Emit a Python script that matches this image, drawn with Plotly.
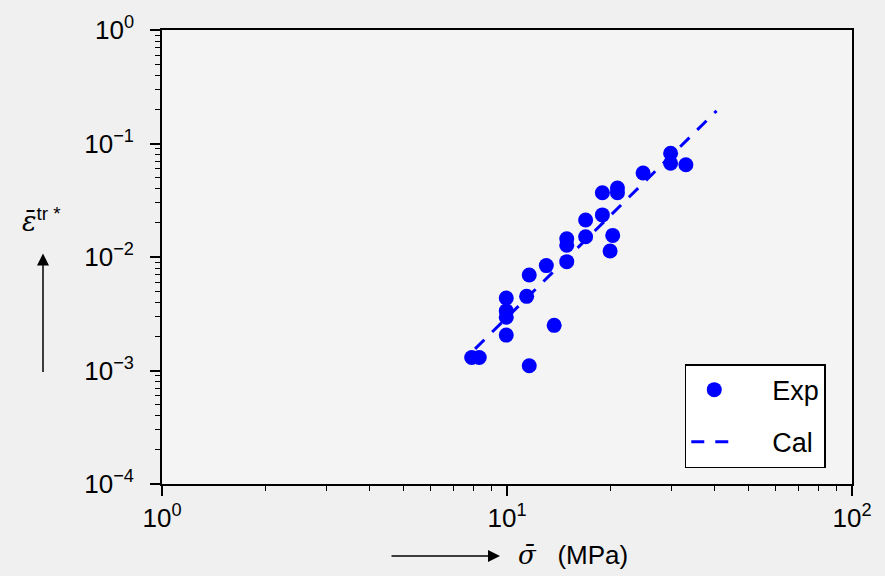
import plotly.graph_objects as go

# Experimental data (sigma in MPa, strain)
exp_x = [7.90, 8.31, 11.6, 9.95, 9.95, 9.95, 9.95, 11.4, 13.7, 11.6, 13.0, 14.9, 14.9, 14.9,
         16.9, 16.9, 18.9, 18.9, 20.9, 20.9, 20.25, 19.9, 24.8, 29.8, 29.8, 33.0]
exp_y = [1.30e-3, 1.30e-3, 1.10e-3, 2.05e-3, 2.95e-3, 3.35e-3, 4.35e-3, 4.5e-3, 2.5e-3, 6.95e-3,
         8.4e-3, 9.1e-3, 1.27e-2, 1.45e-2, 1.51e-2, 2.12e-2, 2.35e-2, 3.68e-2, 3.68e-2, 4.06e-2,
         1.55e-2, 1.13e-2, 5.5e-2, 8.2e-2, 6.7e-2, 6.5e-2]

# Calculated line
cal_x = [8.08, 40.5]
cal_y = [1.55e-3, 0.194]

# Tick labels
x_tickvals = [1, 10, 100]
x_ticktext = ["10<sup>0</sup>", "10<sup>1</sup>", "10<sup>2</sup>"]
y_tickvals = [1e-4, 1e-3, 1e-2, 1e-1, 1]
y_ticktext = ["10<sup>\u22124</sup>", "10<sup>\u22123</sup>", "10<sup>\u22122</sup>",
              "10<sup>\u22121</sup>", "10<sup>0</sup>"]

BLUE = "#0000ff"
FONT = "Liberation Sans, Arial, Helvetica, sans-serif"

fig = go.Figure()
fig.add_trace(go.Scatter(x=exp_x, y=exp_y, mode="markers", name="&nbsp;&nbsp;&nbsp;&nbsp;Exp",
                         marker=dict(color=BLUE, size=15, line=dict(width=0)),
                         legendgroup="a"))
fig.add_trace(go.Scatter(x=cal_x, y=cal_y, mode="lines", name="&nbsp;&nbsp;&nbsp;&nbsp;Cal",
                         line=dict(color=BLUE, width=3, dash="13px,11px"),
                         legendgroup="b"))

axis_common = dict(
    type="log", showgrid=False, zeroline=False, showline=True, linecolor="black",
    linewidth=1.6, mirror=True, ticks="outside", ticklen=10, tickwidth=1.5,
    tickcolor="black", tickfont=dict(family=FONT, size=26, color="black"),
    minor=dict(ticks="outside", ticklen=5, tickwidth=1.2, tickcolor="black",
               dtick="D1", showgrid=False),
)

fig.update_xaxes(range=[0, 2], tickvals=x_tickvals, ticktext=x_ticktext, **axis_common)
fig.update_yaxes(range=[-4, 0], tickvals=y_tickvals, ticktext=y_ticktext,
                 ticklabelstandoff=11, **axis_common)

fig.update_layout(
    width=885, height=576,
    margin=dict(l=162, r=33, t=23, b=92),
    paper_bgcolor="#f0f0f0", plot_bgcolor="#f4f4f4",
    font=dict(family=FONT, size=24, color="black"),
    legend=dict(x=0.962, y=0.035, xanchor="right", yanchor="bottom",
                bgcolor="white", bordercolor="black", borderwidth=1.5,
                font=dict(family=FONT, size=27, color="black"),
                tracegroupgap=14, itemwidth=46),
    showlegend=True,
)

# axis titles with arrows
fig.add_annotation(xref="paper", yref="paper", x=(516 - 162) / 690, y=(484 - 556) / 461,
                   text="<span style='font-family:DejaVu Serif'><i>\u03c3\u0304</i></span>&nbsp;&nbsp;&nbsp;(MPa)",
                   showarrow=False, xanchor="left",
                   yanchor="middle", font=dict(family=FONT, size=26, color="black"))
fig.add_annotation(xref="paper", yref="paper", x=(500 - 162) / 690, y=(484 - 557) / 461,
                   ax=-110, ay=0, text="", showarrow=True, arrowhead=2, arrowsize=1.6,
                   arrowwidth=1.5, arrowcolor="black")
fig.add_annotation(xref="paper", yref="paper", x=(20 - 162) / 690, y=(484 - 216) / 461,
                   xanchor="left",
                   text="<span style='font-family:DejaVu Serif'><i>\u03b5\u0304</i></span><sup>tr *</sup>",
                   showarrow=False,
                   font=dict(family=FONT, size=27, color="black"))
fig.add_annotation(xref="paper", yref="paper", x=(43 - 162) / 690, y=(484 - 250) / 461,
                   ax=0, ay=120, text="", showarrow=True, arrowhead=2, arrowsize=1.6,
                   arrowwidth=1.5, arrowcolor="black")

fig.write_html("out.html")
